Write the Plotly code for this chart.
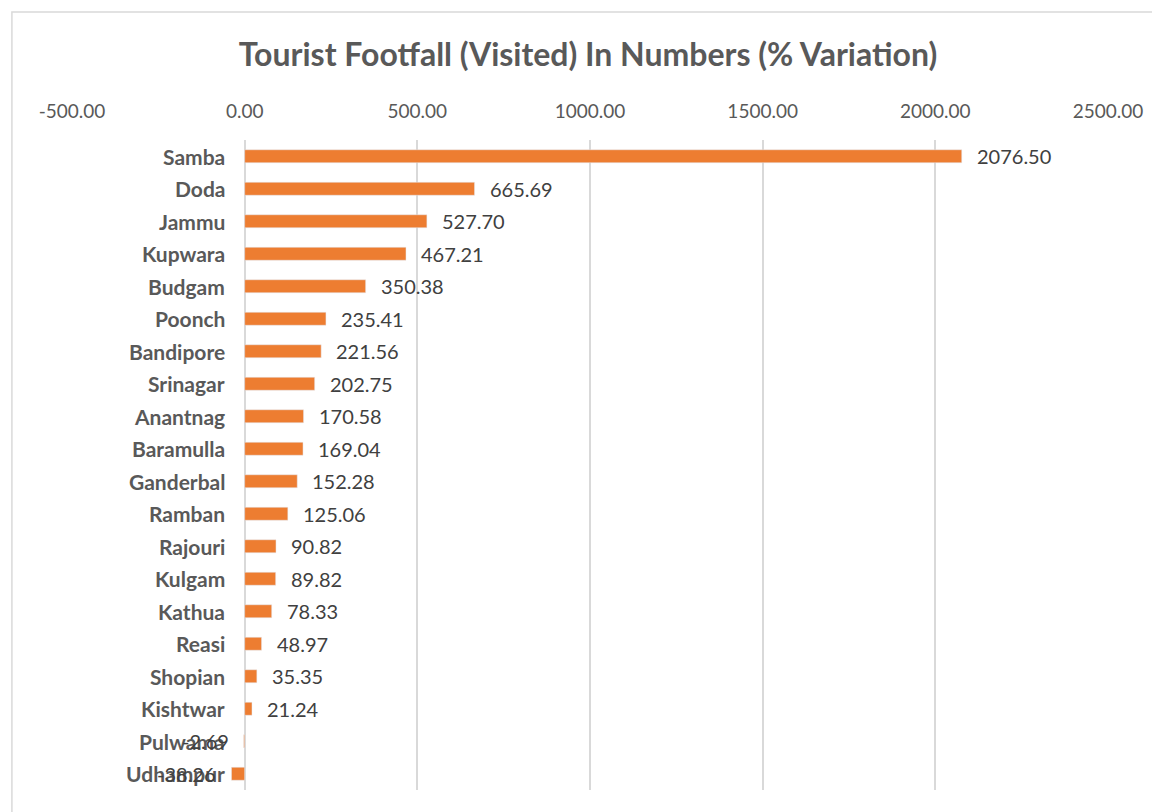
import plotly.graph_objects as go

districts = ["Samba", "Doda", "Jammu", "Kupwara", "Budgam", "Poonch", "Bandipore",
             "Srinagar", "Anantnag", "Baramulla", "Ganderbal", "Ramban", "Rajouri",
             "Kulgam", "Kathua", "Reasi", "Shopian", "Kishtwar", "Pulwama", "Udhampur"]
variation = [2076.50, 665.69, 527.70, 467.21, 350.38, 235.41, 221.56, 202.75, 170.58,
             169.04, 152.28, 125.06, 90.82, 89.82, 78.33, 48.97, 35.35, 21.24, -2.69, -38.26]
tick_vals = [-500, 0, 500, 1000, 1500, 2000, 2500]

FONT = "Lato"
GREY = "#595959"

fig = go.Figure(go.Bar(
    x=variation, y=districts, orientation="h",
    marker_color="#ED7D31", width=0.4,
))

# category names sit just left of the zero line, like Excel
for d in districts:
    fig.add_annotation(x=0, y=d, xref="x", yref="y", text=f"<b>{d}</b>",
                       showarrow=False, xanchor="right", xshift=-18,
                       font=dict(family=FONT, size=21, color=GREY))

# value labels
for d, v in zip(districts, variation):
    fig.add_annotation(x=v, y=d, xref="x", yref="y", text=f"{v:.2f}",
                       showarrow=False, xanchor="left" if v >= 0 else "right",
                       xshift=13 if v >= 0 else -13,
                       font=dict(family=FONT, size=20, color="#404040"))

# chart border
fig.add_shape(type="rect", xref="paper", yref="paper", x0=-0.058, x1=1.2, y0=-0.5, y1=1.197,
              line=dict(color="#d9d9d9", width=1.5), layer="below")

fig.update_layout(
    width=1160, height=812,
    paper_bgcolor="white", plot_bgcolor="white",
    margin=dict(l=64, r=60, t=132, b=30),
    showlegend=False,
    title=dict(text="<b>Tourist Footfall (Visited) In Numbers (% Variation)</b>",
               x=0.5, xanchor="center", y=0.942, yanchor="middle",
               font=dict(family=FONT, size=32, color=GREY)),
    xaxis=dict(side="top", range=[-500, 2500], tickvals=tick_vals,
               ticktext=[f"{t:.2f}" for t in tick_vals],
               showgrid=True, gridcolor="#d9d9d9", gridwidth=1.5,
               zeroline=True, zerolinecolor="#d9d9d9", zerolinewidth=1.5,
               showline=False, ticks="", ticklabelstandoff=17,
               tickfont=dict(family=FONT, size=19, color=GREY)),
    yaxis=dict(autorange="reversed", showticklabels=False, showgrid=False,
               zeroline=False, showline=False, ticks=""),
)

fig.write_html("out.html")
